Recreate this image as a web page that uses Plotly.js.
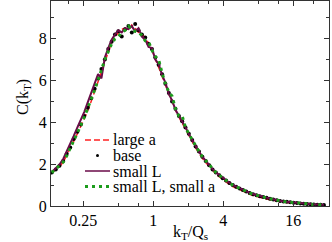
<!DOCTYPE html>
<html><head><meta charset="utf-8">
<script src="https://cdn.plot.ly/plotly-3.0.1.min.js"></script>
<style>html,body{margin:0;padding:0;background:#fff}#chart{width:332px;height:242px}</style>
</head><body><div id="chart"></div>
<script>
// k_T / Q_s values
const kT = [0.134,0.145,0.156,0.168,0.18,0.193,0.207,0.222,0.238,0.255,
  0.273,0.292,0.313,0.335,0.358,0.383,0.41,0.438,0.468,0.5,
  0.535,0.572,0.611,0.653,0.698,0.746,0.797,0.852,0.91,0.973,
  1.04,1.11,1.19,1.27,1.36,1.45,1.55,1.66,1.77,1.89,
  2.02,2.16,2.31,2.47,2.64,2.82,3.02,3.23,3.45,3.69,
  3.95,4.22,4.51,4.82,5.15,5.51,5.89,6.3,6.73,7.2,
  7.7,8.23,8.8,9.41,10.06,10.75,11.5,12.3,13.15,14.06,
  15.03,16.07,17.18,18.37,19.64,21.0,22.45,24.0,25.66,27.43,29.3];
const largeA = [1.58,1.72,1.88,2.1,2.42,2.72,3.1,3.45,3.8,4.15,
  4.55,5.0,5.45,5.95,6.4,6.9,7.35,7.8,8.1,8.3,
  8.45,8.5,8.4,8.65,8.45,8.3,8.25,8.0,7.8,7.45,
  7.05,6.7,6.25,5.8,5.35,4.95,4.6,4.25,3.98,3.7,
  3.38,3.08,2.78,2.52,2.28,2.08,1.88,1.68,1.53,1.4,
  1.26,1.15,1.03,0.93,0.85,0.77,0.69,0.62,0.56,0.5,
  0.45,0.41,0.37,0.33,0.3,0.26,0.23,0.2,0.18,0.16,
  0.14,0.13,0.11,0.1,0.09,0.08,0.07,0.06,0.055,0.05,0.045];
const base = [1.6,1.75,1.92,2.15,2.5,2.8,3.2,3.55,3.9,4.3,
  4.7,5.15,5.6,6.1,6.55,7.0,7.5,7.85,8.2,8.35,
  8.1,8.45,8.6,8.3,8.7,8.4,8.2,8.05,7.75,7.5,
  7.1,6.75,6.3,5.85,5.4,5.0,4.65,4.3,4.05,3.75,
  3.45,3.15,2.85,2.6,2.35,2.15,1.95,1.75,1.6,1.47,
  1.33,1.22,1.1,1.0,0.92,0.84,0.76,0.69,0.62,0.56,
  0.51,0.47,0.43,0.39,0.35,0.31,0.27,0.24,0.22,0.2,
  0.18,0.16,0.14,0.125,0.11,0.095,0.085,0.075,0.065,0.055,0.05];
const smallL = [1.62,1.8,1.98,2.25,2.6,2.95,3.35,3.75,4.1,4.5,
  4.95,5.4,5.85,6.3,6.1,7.1,7.55,7.95,8.2,8.4,
  8.3,8.5,8.45,8.6,8.35,8.5,8.1,7.95,7.6,7.55,
  7.0,6.8,6.25,5.9,5.35,5.05,4.6,4.32,4.02,3.77,
  3.44,3.15,2.86,2.6,2.36,2.16,1.96,1.76,1.61,1.48,
  1.34,1.23,1.11,1.01,0.93,0.85,0.77,0.7,0.63,0.57,
  0.52,0.48,0.44,0.4,0.36,0.32,0.28,0.25,0.22,0.2,
  0.18,0.16,0.145,0.13,0.115,0.1,0.09,0.08,0.07,0.06,0.055];
const smallLsmallA = [1.6,1.78,1.9,2.1,2.4,2.75,3.1,3.5,3.85,4.25,
  4.65,5.1,5.55,6.0,6.5,7.0,7.4,7.75,8.0,8.1,
  8.3,8.4,8.6,8.45,8.35,8.3,8.15,7.9,7.85,7.45,
  7.15,7.0,6.35,5.85,5.45,5.25,4.65,4.3,4.3,3.75,
  3.45,3.15,2.86,2.6,2.36,2.16,1.96,1.76,1.6,1.47,
  1.33,1.22,1.1,1.0,0.92,0.84,0.76,0.69,0.62,0.56,
  0.51,0.47,0.43,0.39,0.35,0.31,0.27,0.24,0.22,0.2,
  0.18,0.16,0.14,0.125,0.11,0.095,0.085,0.075,0.065,0.055,0.05];
const seriesNames = ['large a','base','small L','small L, small a'];
const xTickVals = [0.25,1,4,16];
const xTickText = ['0.25','1','4','16'];
const xMinorVals = [0.1875,0.5,0.75,2,3,8,12,24,32];
const yTickVals = [0,2,4,6,8];

const RED='#ff2020', BLACK='#000000', MAROON='#6a0a48', GREEN='#1c9c1c';
const FONT = {family:'"Liberation Serif", "Times New Roman", serif', size:16, color:'#000'};

const traces = [
  {x:kT, y:largeA, name:seriesNames[0], mode:'lines', line:{color:RED, width:1.5, dash:'6px,3px'}},
  {x:kT, y:base, name:seriesNames[1], mode:'markers', marker:{color:BLACK, size:4}},
  {x:kT, y:smallL, name:seriesNames[2], mode:'lines', line:{color:MAROON, width:2}},
  {x:kT, y:smallLsmallA, name:seriesNames[3], mode:'lines', line:{color:GREEN, width:3, dash:'3px,4px'}}
];

// plot area in pixels: left 51, right 329, top 1, bottom 206
function px(x){return (x-51)/278;}
function py(y){return (206-y)/205;}
const legRows = [140,155.5,171,186.5];
const shapes = [
  {type:'line', xref:'paper', yref:'paper', x0:px(85), x1:px(110), y0:py(legRows[0]), y1:py(legRows[0]), line:{color:RED, width:1.5, dash:'6px,3px'}},
  {type:'circle', xref:'paper', yref:'paper', x0:px(96), x1:px(99), y0:py(legRows[1]+1.5), y1:py(legRows[1]-1.5), fillcolor:BLACK, line:{color:BLACK, width:0}},
  {type:'line', xref:'paper', yref:'paper', x0:px(85), x1:px(110), y0:py(legRows[2]), y1:py(legRows[2]), line:{color:MAROON, width:1.5}},
  {type:'line', xref:'paper', yref:'paper', x0:px(85), x1:px(110), y0:py(legRows[3]), y1:py(legRows[3]), line:{color:GREEN, width:3, dash:'3px,4px'}}
];
const annotations = seriesNames.map((t,i)=>({
  text:t, xref:'paper', yref:'paper', x:px(112), y:py(legRows[i]), xanchor:'left', yanchor:'middle',
  showarrow:false, font:FONT, borderpad:0
}));
annotations.push({
  text:'C(k<sub>T</sub>)', xref:'paper', yref:'paper', x:px(23), y:py(97), xanchor:'center', yanchor:'middle',
  textangle:-90, showarrow:false, font:FONT, borderpad:0
});
annotations.push({
  text:'k<sub>T</sub>/Q<sub>s</sub>', xref:'paper', yref:'paper', x:0.5, y:py(232), xanchor:'center', yanchor:'middle',
  showarrow:false, font:FONT, borderpad:0
});

const axisCommon = {
  showline:true, linecolor:'#333', linewidth:1, mirror:'ticks', ticks:'inside', ticklen:5, tickwidth:1,
  tickcolor:'#333', showgrid:false, zeroline:false, tickfont:FONT
};
const layout = {
  width:332, height:242, margin:{l:51, r:3, t:1, b:36},
  paper_bgcolor:'#fff', plot_bgcolor:'#fff', font:FONT, showlegend:false,
  xaxis: Object.assign({}, axisCommon, {
    type:'log', range:[Math.log10(0.1319), Math.log10(32.4)],
    tickmode:'array', tickvals:xTickVals, ticktext:xTickText,
    minor:{tickmode:'array', tickvals:xMinorVals, ticks:'inside', ticklen:3, tickcolor:'#333', showgrid:false}
  }),
  yaxis: Object.assign({}, axisCommon, {
    range:[0,9.8], tickmode:'array', tickvals:yTickVals,
    minor:{dtick:1, ticks:'inside', ticklen:3, tickcolor:'#333', showgrid:false}
  }),
  shapes:shapes, annotations:annotations
};
Plotly.newPlot('chart', traces, layout, {staticPlot:true, displayModeBar:false});
</script></body></html>
